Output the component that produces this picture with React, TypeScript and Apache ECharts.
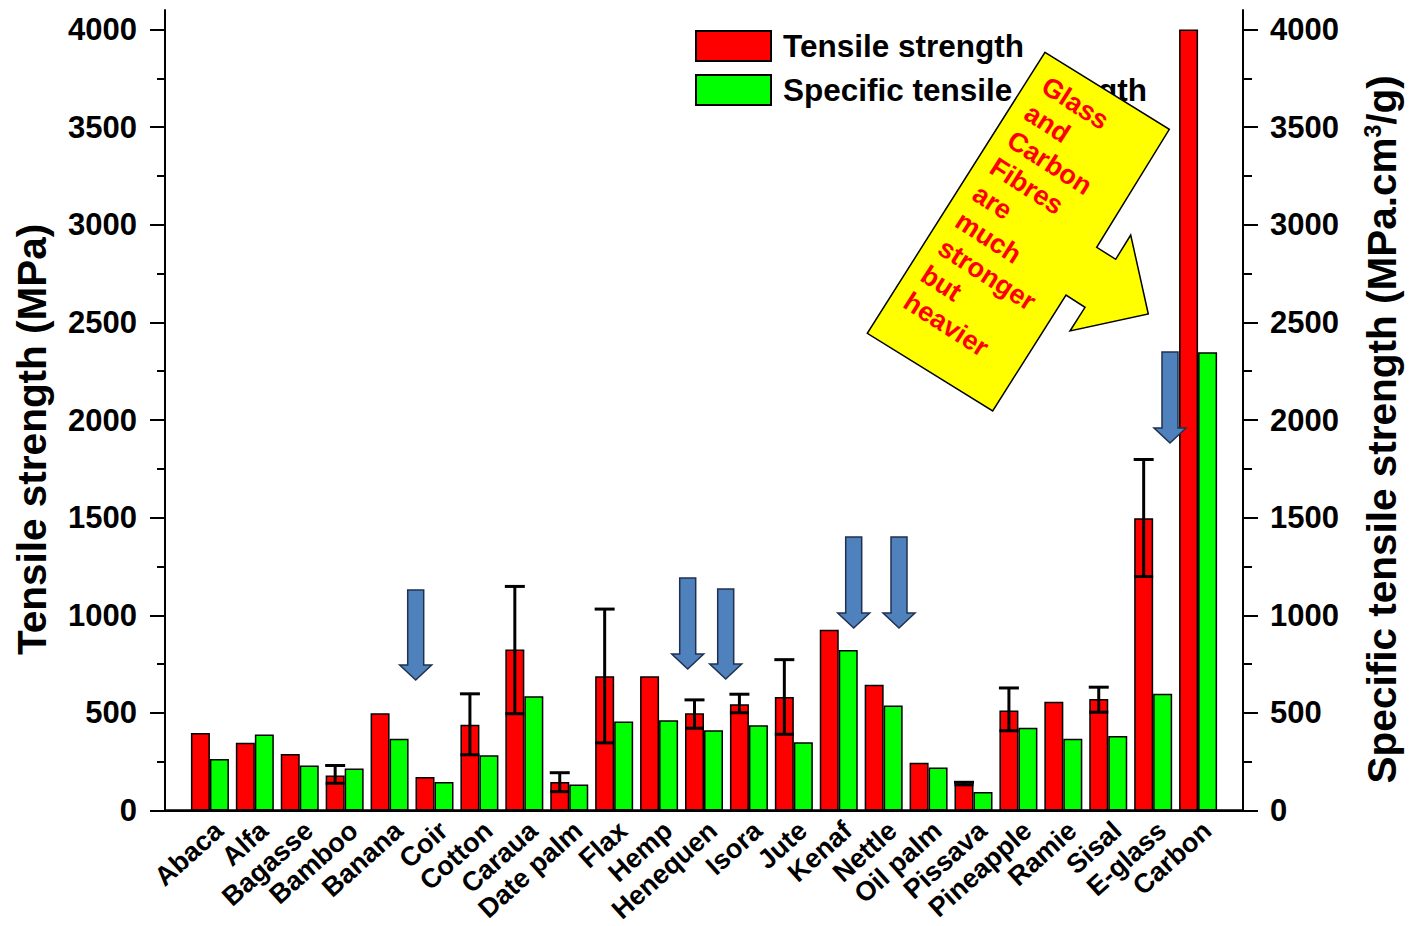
import React, { useEffect, useRef } from 'react';
import * as echarts from 'echarts';

const categories = ['Abaca', 'Alfa', 'Bagasse', 'Bamboo', 'Banana', 'Coir', 'Cotton', 'Caraua', 'Date palm', 'Flax', 'Hemp', 'Henequen', 'Isora', 'Jute', 'Kenaf', 'Nettle', 'Oil palm', 'Pissava', 'Pineapple', 'Ramie', 'Sisal', 'E-glass', 'Carbon'];
const tensile = [398, 348, 290, 180, 499, 172, 440, 825, 147, 688, 688, 499, 545, 582, 926, 645, 245, 138, 513, 558, 572, 1497, 4000];
const specific = [264, 390, 231, 215, 368, 147, 283, 586, 134, 456, 463, 411, 437, 350, 822, 538, 221, 95, 424, 368, 382, 598, 2347];

const errCats = ['Bamboo', 'Cotton', 'Caraua', 'Date palm', 'Flax', 'Henequen', 'Isora', 'Jute', 'Pissava', 'Pineapple', 'Sisal', 'E-glass'];
const errLow = [140, 286, 496, 97, 347, 422, 501, 391, 132, 409, 504, 1199];
const errHigh = [231, 598, 1148, 194, 1032, 567, 596, 773, 145, 628, 632, 1798];

const majorTicks = [0, 500, 1000, 1500, 2000, 2500, 3000, 3500, 4000];
const minorTicks = [250, 750, 1250, 1750, 2250, 2750, 3250, 3750];

const calloutLines = ['Glass', 'and', 'Carbon', 'Fibres', 'are', 'much', 'stronger', 'but', 'heavier'];

const FONT = "'Liberation Sans', Arial, sans-serif";
const BAR_W = 19;

// annotation arrows (pixel positions): [centerX, top, tip]
const arrows = [
  [415.7, 590, 680],
  [687.7, 578, 669],
  [725.7, 589, 679],
  [853.7, 537, 628],
  [899, 537, 628],
  [1170, 352, 443],
];

function arrowPoints(cx: number, top: number, tip: number) {
  const s = 8, h = 16, hh = 15;
  return [
    [cx - s, top], [cx + s, top], [cx + s, tip - hh], [cx + h, tip - hh],
    [cx, tip], [cx - h, tip - hh], [cx - s, tip - hh],
  ];
}

const calloutPoints = [
  [1045, 52.3], [1169.3, 129.3], [1096.7, 247.3], [1115.7, 259.3], [1130.7, 235],
  [1148.3, 314], [1070, 331], [1085, 307.3], [1066, 295], [992.7, 411], [867.3, 333.3],
];

export default function App() {
  const ref = useRef<HTMLDivElement>(null);
  useEffect(() => {
    document.body.style.margin = '0';
    if (!ref.current) return;
    const chart = echarts.init(ref.current, null, { renderer: 'svg' });
    const axisCats = [' ', ...categories, '  '];
    const rot = (-32.6 * Math.PI) / 180;
    const plain = (v: number) => String(v);
    const option: any = {
      animation: false,
      backgroundColor: '#fff',
      textStyle: { fontFamily: FONT },
      grid: { left: 165, right: 167, top: 10, bottom: 114 },
      legend: {
        orient: 'vertical',
        left: 695,
        top: 30,
        padding: 0,
        itemWidth: 75,
        itemHeight: 30,
        itemGap: 12,
        icon: 'rect',
        data: ['Tensile strength', 'Specific tensile strength'],
        textStyle: { fontSize: 31.5, fontWeight: 'bold', color: '#000', fontFamily: FONT, lineHeight: 30, padding: [0, 0, 0, 7] },
      },
      xAxis: [
        {
          type: 'category',
          data: axisCats,
          boundaryGap: false,
          axisLine: { lineStyle: { color: '#000', width: 2.5 } },
          axisTick: { show: false },
          axisLabel: { interval: 0, rotate: 42, margin: 6, verticalAlign: 'top', fontSize: 27, fontWeight: 'bold', color: '#000', fontFamily: FONT },
          splitLine: { show: false },
        },
        {
          type: 'category',
          data: axisCats,
          position: 'top',
          boundaryGap: false,
          axisLine: { lineStyle: { color: '#000', width: 2 } },
          axisTick: { show: false },
          axisLabel: { show: false },
          splitLine: { show: false },
        },
      ],
      yAxis: [
        {
          type: 'value', position: 'left', min: 0, max: 4100,
          name: 'Tensile strength (MPa)', nameLocation: 'middle', nameRotate: 90, nameGap: 113,
          nameTextStyle: { fontSize: 40.5, fontWeight: 'bold', color: '#000', fontFamily: FONT, padding: [0, 58, 0, 0] },
          axisLine: { show: true, lineStyle: { color: '#000', width: 2 } },
          axisTick: { show: true, customValues: majorTicks, length: 15, lineStyle: { color: '#000', width: 2 } },
          axisLabel: { customValues: majorTicks, formatter: plain, margin: 28, fontSize: 31, fontWeight: 'bold', color: '#000', fontFamily: FONT },
          splitLine: { show: false },
        },
        {
          type: 'value', position: 'left', min: 0, max: 4100,
          axisLine: { show: false },
          axisTick: { show: true, customValues: minorTicks, length: 8, lineStyle: { color: '#000', width: 2 } },
          axisLabel: { show: false },
          splitLine: { show: false },
        },
        {
          type: 'value', position: 'right', min: 0, max: 4100,
          name: '{a|Specific tensile strength (MPa.cm}{s|3}{a|/g)}', nameLocation: 'middle', nameRotate: 90, nameGap: 118,
          nameTextStyle: {
            color: '#000', padding: [0, 38, 0, 0],
            rich: {
              a: { fontSize: 40.5, fontWeight: 'bold', color: '#000', fontFamily: FONT },
              s: { fontSize: 23, fontWeight: 'bold', color: '#000', fontFamily: FONT, verticalAlign: 'top' },
            },
          },
          axisLine: { show: true, lineStyle: { color: '#000', width: 2 } },
          axisTick: { show: true, customValues: majorTicks, length: 15, lineStyle: { color: '#000', width: 2 } },
          axisLabel: { customValues: majorTicks, formatter: plain, margin: 27, fontSize: 31, fontWeight: 'bold', color: '#000', fontFamily: FONT },
          splitLine: { show: false },
        },
        {
          type: 'value', position: 'right', min: 0, max: 4100,
          axisLine: { show: false },
          axisTick: { show: true, customValues: minorTicks, length: 9, lineStyle: { color: '#000', width: 2 } },
          axisLabel: { show: false },
          splitLine: { show: false },
        },
      ],
      series: [
        {
          name: 'Tensile strength', type: 'bar', xAxisIndex: 0, yAxisIndex: 0,
          barWidth: BAR_W, barGap: '0%',
          itemStyle: { color: '#ff0000', borderColor: '#000', borderWidth: 1.5 },
          data: categories.map((c, i) => [c, tensile[i]]),
        },
        {
          name: 'Specific tensile strength', type: 'bar', xAxisIndex: 0, yAxisIndex: 0,
          barWidth: BAR_W, barGap: '0%',
          itemStyle: { color: '#00ff00', borderColor: '#000', borderWidth: 1.5 },
          data: categories.map((c, i) => [c, specific[i]]),
        },
        {
          type: 'custom', xAxisIndex: 0, yAxisIndex: 0, z: 5,
          data: errCats.map((c, i) => [c, errLow[i], errHigh[i]]),
          renderItem: (params: any, api: any) => {
            const lo = api.coord([api.value(0), api.value(1)]);
            const hi = api.coord([api.value(0), api.value(2)]);
            const x = lo[0] - BAR_W / 2;
            const cap = 10;
            const st = { stroke: '#000', lineWidth: 3 };
            return {
              type: 'group',
              children: [
                { type: 'line', shape: { x1: x, y1: lo[1], x2: x, y2: hi[1] }, style: st },
                { type: 'line', shape: { x1: x - cap, y1: hi[1], x2: x + cap, y2: hi[1] }, style: st },
                { type: 'line', shape: { x1: x - BAR_W / 2, y1: lo[1], x2: x + BAR_W / 2, y2: lo[1] }, style: st },
              ],
            };
          },
        },
      ],
      graphic: [
        ...arrows.map((a) => ({
          type: 'polygon', z: 100,
          shape: { points: arrowPoints(a[0], a[1], a[2]) },
          style: { fill: '#4f81bd', stroke: '#1f3050', lineWidth: 1.5 },
        })),
        {
          type: 'polygon', z: 100,
          shape: { points: calloutPoints },
          style: { fill: '#ffff00', stroke: '#000', lineWidth: 1.5 },
        },
        {
          type: 'text', z: 101,
          x: 1053, y: 70, rotation: rot,
          style: {
            text: calloutLines.join('\n'),
            fill: '#ff0000',
            fontSize: 27, fontWeight: 'bold', fontFamily: FONT,
            lineHeight: 32, align: 'left', verticalAlign: 'top',
          },
        },
      ],
    };
    chart.setOption(option);
    return () => chart.dispose();
  }, []);
  return <div ref={ref} style={{ width: 1410, height: 926 }} />;
}
